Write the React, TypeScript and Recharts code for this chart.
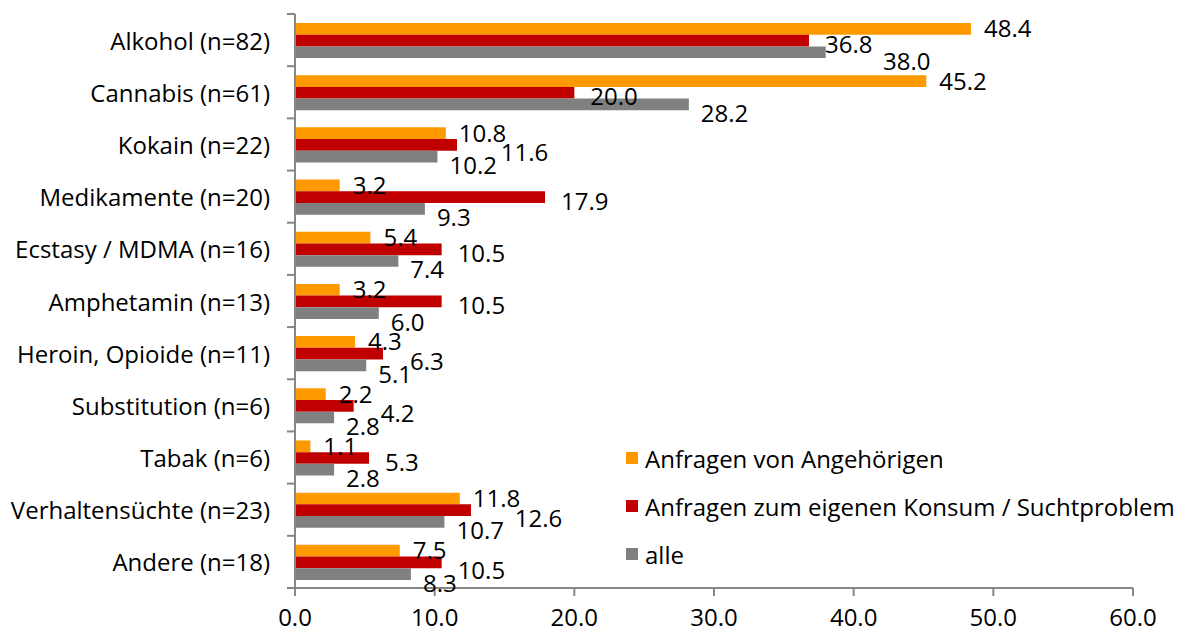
import React from "react";
import { Bar, BarChart, LabelList, Legend, XAxis, YAxis } from "recharts";

const categories = [
  "Alkohol (n=82)",
  "Cannabis (n=61)",
  "Kokain (n=22)",
  "Medikamente (n=20)",
  "Ecstasy / MDMA (n=16)",
  "Amphetamin (n=13)",
  "Heroin, Opioide (n=11)",
  "Substitution (n=6)",
  "Tabak (n=6)",
  "Verhaltensüchte (n=23)",
  "Andere (n=18)",
];
const angehoerige = [48.4, 45.2, 10.8, 3.2, 5.4, 3.2, 4.3, 2.2, 1.1, 11.8, 7.5];
const eigenerKonsum = [36.8, 20.0, 11.6, 17.9, 10.5, 10.5, 6.3, 4.2, 5.3, 12.6, 10.5];
const alle = [38.0, 28.2, 10.2, 9.3, 7.4, 6.0, 5.1, 2.8, 2.8, 10.7, 8.3];
const xTicks = [0, 10, 20, 30, 40, 50, 60];

const seriesInfo = [
  { key: "angehoerige", name: "Anfragen von Angehörigen", color: "#FF9900" },
  { key: "eigen", name: "Anfragen zum eigenen Konsum / Suchtproblem", color: "#C00000" },
  { key: "alle", name: "alle", color: "#808080" },
];
const seriesValues = [angehoerige, eigenerKonsum, alle];

const FONT = "'Open Sans', sans-serif";
const FS = 24;
const W = 1189;
const H = 634;
const M = { top: 14, right: 56, bottom: 0, left: 0 };
const AXIS_W = 295;
const XAXIS_H = 46;
const BAND = (H - M.top - XAXIS_H) / categories.length;
const LABEL_W = 48;

const data = categories.map((name, i) => ({
  name,
  angehoerige: angehoerige[i],
  eigen: eigenerKonsum[i],
  alle: alle[i],
}));

// place the three value labels of one category roughly like the Excel original,
// nudging a label to the right when it would sit on top of the one above it
function layoutLabels(i: number, x0: number, pxPerUnit: number, top: number, h: number) {
  const ends = seriesValues.map((vals) => x0 + vals[i] * pxPerUnit);
  const cy = [0, 1, 2].map((k) => top + h * k + h / 2);
  const o = { x: ends[0] + 13, y: cy[0] - 1 };
  const r = { x: ends[1] + 16, y: cy[1] + 3 };
  if (Math.abs(r.y - o.y) < 20 && r.x < o.x + LABEL_W && r.x + LABEL_W > o.x) {
    r.x = Math.max(r.x, o.x + LABEL_W - 6);
    r.y += 4;
  }
  const g = { x: ends[2] + 12, y: cy[2] + 8 };
  if (Math.abs(g.y - r.y) < 20 && g.x > r.x - 5 && g.x < r.x + LABEL_W) {
    g.x = r.x + LABEL_W + 10;
  }
  return [o, r, g];
}

function CategoryTick(props: any) {
  const { x, y, payload, index } = props;
  const axisX = x + 25;
  const last = index === categories.length - 1;
  return (
    <g>
      <line x1={axisX - 8} x2={axisX} y1={y - BAND / 2} y2={y - BAND / 2} stroke="#868686" strokeWidth={2} />
      {last && (
        <line x1={axisX - 8} x2={axisX} y1={y + BAND / 2} y2={y + BAND / 2} stroke="#868686" strokeWidth={2} />
      )}
      <text x={x} y={y} textAnchor="end" dominantBaseline="central" fontSize={FS} fontFamily={FONT} fill="#000">
        {payload.value}
      </text>
    </g>
  );
}

function makeLabel(k: number) {
  return (props: any) => {
    const { x, y, width, height, value, index } = props;
    const v = Number(value);
    if (!v) return null;
    const pos = layoutLabels(index, x, width / v, y - k * height, height)[k];
    return (
      <text x={pos.x} y={pos.y} dominantBaseline="central" fontSize={FS} fontFamily={FONT} fill="#000">
        {v.toFixed(1)}
      </text>
    );
  };
}

function LegendBox() {
  return (
    <div style={{ fontFamily: FONT, fontSize: FS, color: "#000", whiteSpace: "nowrap" }}>
      {seriesInfo.map((s) => (
        <div key={s.key} style={{ display: "flex", alignItems: "center", height: 48 }}>
          <span style={{ width: 12, height: 12, background: s.color, marginRight: 7, flex: "none" }} />
          <span>{s.name}</span>
        </div>
      ))}
    </div>
  );
}

export default function App() {
  return (
    <div style={{ position: "absolute", left: 0, top: 0, width: W, height: H, background: "#fff" }}>
      <BarChart width={W} height={H} data={data} layout="vertical" margin={M} barGap={0} barSize={11.7}>
        <XAxis
          type="number"
          domain={[0, 60]}
          ticks={xTicks}
          tickFormatter={(v: number) => v.toFixed(1)}
          height={XAXIS_H}
          stroke="#868686"
          strokeWidth={2}
          tickSize={8}
          tickMargin={13}
          tick={{ fontSize: FS, fontFamily: FONT, fill: "#000" }}
          interval={0}
        />
        <YAxis
          type="category"
          dataKey="name"
          width={AXIS_W}
          stroke="#868686"
          strokeWidth={2}
          tickLine={false}
          tickSize={0}
          tickMargin={25}
          tick={<CategoryTick />}
          interval={0}
        />
        <Legend
          layout="vertical"
          verticalAlign="middle"
          align="center"
          content={<LegendBox />}
          wrapperStyle={{ position: "absolute", left: 626, top: 434, width: 560 }}
        />
        {seriesInfo.map((s, k) => (
          <Bar key={s.key} dataKey={s.key} name={s.name} fill={s.color} isAnimationActive={false}>
            <LabelList dataKey={s.key} content={makeLabel(k)} />
          </Bar>
        ))}
      </BarChart>
    </div>
  );
}
